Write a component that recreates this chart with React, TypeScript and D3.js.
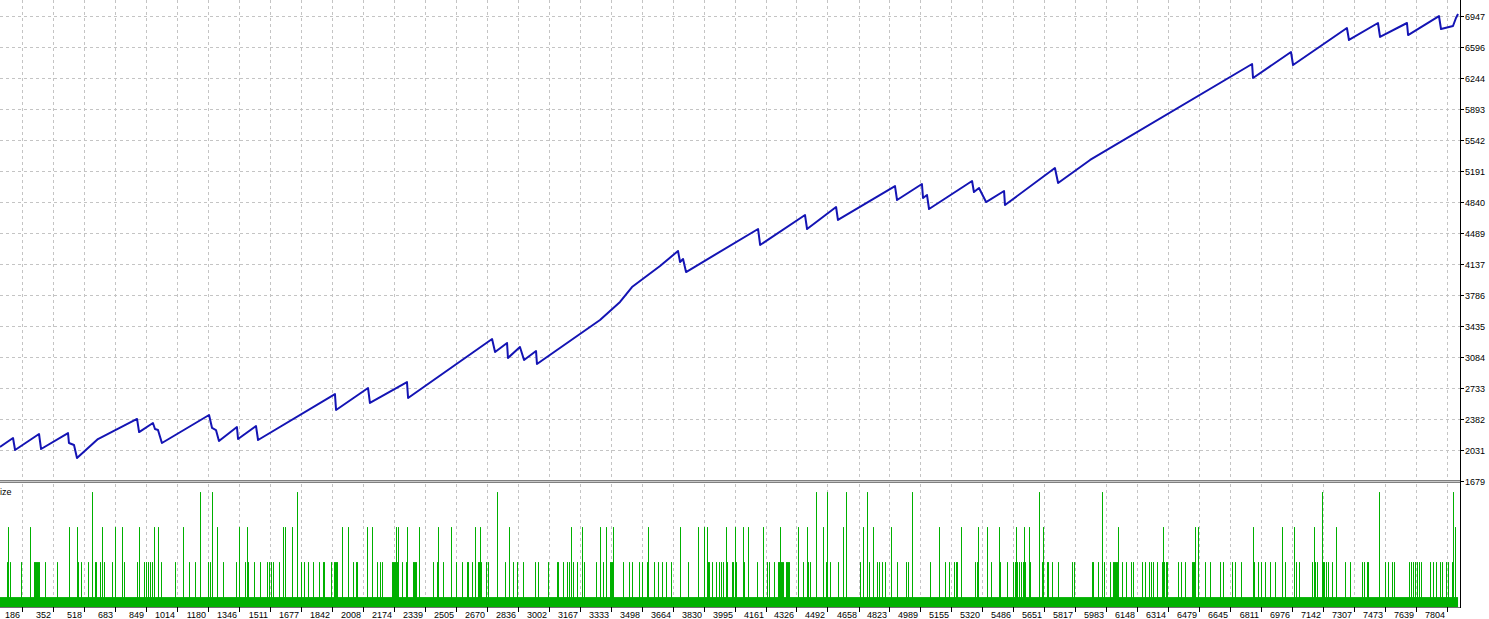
import React from "react";
import * as d3 from "d3";

// ---- Data ----
const yTickLabels = [1679, 2031, 2382, 2733, 3084, 3435, 3786, 4137, 4489, 4840, 5191, 5542, 5893, 6244, 6596, 6947];
const xTickLabels = [186, 352, 518, 683, 849, 1014, 1180, 1346, 1511, 1677, 1842, 2008, 2174, 2339, 2505, 2670, 2836, 3002, 3167, 3333, 3498, 3664, 3830, 3995, 4161, 4326, 4492, 4658, 4823, 4989, 5155, 5320, 5486, 5651, 5817, 5983, 6148, 6314, 6479, 6645, 6811, 6976, 7142, 7307, 7473, 7639, 7804];

// equity curve vertices (trade number, balance)
const equityTrades = [68, 138, 149, 277, 288, 432, 437, 464, 480, 592, 801, 812, 886, 897, 913, 934, 1186, 1202, 1223, 1239, 1335, 1341, 1437, 1448, 1859, 1865, 2036, 2046, 2244, 2250, 2699, 2715, 2779, 2784, 2848, 2870, 2934, 2939, 3276, 3383, 3447, 3597, 3693, 3704, 3720, 3736, 4121, 4132, 4372, 4383, 4538, 4548, 4853, 4864, 4997, 5003, 5024, 5035, 5265, 5275, 5302, 5340, 5436, 5441, 5708, 5725, 5896, 6762, 6767, 6970, 6981, 7269, 7280, 7435, 7446, 7590, 7596, 7761, 7772, 7836, 7852, 7863];
const equityBalance = [2064, 2166, 2030, 2211, 2041, 2222, 2109, 2086, 1939, 2154, 2381, 2233, 2335, 2267, 2256, 2109, 2426, 2279, 2256, 2132, 2290, 2154, 2301, 2143, 2663, 2482, 2731, 2562, 2799, 2618, 3286, 3139, 3241, 3071, 3195, 3048, 3150, 3003, 3501, 3705, 3874, 4112, 4282, 4157, 4191, 4044, 4531, 4350, 4689, 4531, 4780, 4633, 5017, 4859, 5040, 4882, 4916, 4757, 5074, 4950, 4995, 4836, 4961, 4802, 5221, 5051, 5312, 6398, 6240, 6534, 6387, 6806, 6670, 6862, 6704, 6862, 6726, 6941, 6794, 6828, 6919, 6964];

const firstTrade = 68;
const lastTrade = 7863;
const baseLot = 0.01;
// trades opened with larger lots
const lot002Trades = [106, 122, 181, 229, 250, 256, 261, 266, 272, 277, 309, 373, 485, 501, 539, 576, 582, 603, 624, 667, 731, 801, 838, 849, 860, 870, 881, 929, 1004, 1079, 1111, 1180, 1191, 1261, 1330, 1378, 1394, 1426, 1458, 1496, 1507, 1517, 1528, 1560, 1678, 1694, 1715, 1742, 1774, 1795, 1801, 1838, 1854, 1859, 1865, 1870, 1956, 1972, 1977, 2084, 2100, 2111, 2164, 2169, 2175, 2180, 2191, 2218, 2239, 2276, 2282, 2287, 2292, 2383, 2405, 2437, 2506, 2538, 2565, 2570, 2592, 2624, 2629, 2640, 2667, 2677, 2768, 2811, 2832, 2864, 2929, 2945, 2998, 3046, 3052, 3078, 3100, 3110, 3132, 3153, 3191, 3255, 3292, 3330, 3335, 3340, 3399, 3431, 3447, 3485, 3501, 3527, 3565, 3586, 3608, 3629, 3656, 3746, 3853, 3859, 3875, 3896, 3912, 3923, 3934, 3955, 3982, 3987, 4003, 4046, 4115, 4169, 4180, 4206, 4228, 4233, 4244, 4249, 4254, 4271, 4276, 4281, 4287, 4361, 4388, 4399, 4484, 4506, 4548, 4666, 4714, 4757, 4768, 4784, 4800, 4864, 4912, 4923, 5040, 5120, 5142, 5169, 5179, 5185, 5281, 5292, 5366, 5414, 5452, 5484, 5494, 5505, 5516, 5527, 5537, 5548, 5575, 5639, 5666, 5671, 5692, 5724, 5799, 5810, 5906, 5912, 5938, 5971, 6003, 6019, 6024, 6029, 6035, 6040, 6067, 6088, 6115, 6126, 6173, 6189, 6211, 6222, 6232, 6254, 6281, 6291, 6302, 6307, 6366, 6382, 6404, 6441, 6446, 6452, 6511, 6537, 6591, 6607, 6655, 6671, 6703, 6772, 6794, 6810, 6831, 6858, 6885, 6938, 6997, 7013, 7082, 7099, 7109, 7141, 7147, 7157, 7168, 7189, 7259, 7286, 7350, 7361, 7377, 7382, 7473, 7489, 7510, 7521, 7601, 7612, 7623, 7633, 7644, 7654, 7665, 7713, 7729, 7745, 7767, 7777, 7799, 7810, 7831];
const lot003Trades = [111, 229, 437, 480, 614, 683, 721, 812, 892, 913, 1047, 1229, 1346, 1389, 1581, 1592, 1629, 1897, 1929, 2030, 2057, 2185, 2196, 2244, 2308, 2410, 2479, 2608, 2634, 2789, 3121, 3180, 3276, 3308, 3346, 3533, 3704, 3800, 3832, 3848, 3950, 3998, 4040, 4067, 4147, 4238, 4335, 4383, 4468, 4575, 4682, 4735, 4832, 5088, 5206, 5297, 5345, 5409, 5500, 5543, 5569, 5644, 6045, 6286, 6457, 6473, 6767, 6922, 6986, 7093, 7211, 7847];
const lot004Trades = [560, 1138, 1202, 1656, 2725, 4431, 4490, 4591, 4703, 4944, 5623, 5960, 7136, 7441, 7836];

// ---- Layout ----
const W = 1489;
const H = 619;
const axisX = 1460;
const mainTop = 15.5;
const mainBottom = 481;
const volTop = 484;
const volBottom = 607;

const FONT = "'Liberation Sans', Arial, sans-serif";

export default function App() {
  const x = d3.scaleLinear().domain([186, 7804]).range([22, 1447]);
  const y = d3.scaleLinear().domain([1679, 6947]).range([mainBottom, mainTop]);
  const yVol = d3.scaleLinear().domain([0.00717, 0.0423]).range([volBottom, volTop]);

  const pts: [number, number][] = equityTrades.map((t, i) => [x(t), y(equityBalance[i])]);
  const linePath = d3.line()(pts) || "";

  const bars: { t: number; lot: number }[] = [];
  lot002Trades.forEach((t) => bars.push({ t, lot: 0.02 }));
  lot003Trades.forEach((t) => bars.push({ t, lot: 0.03 }));
  lot004Trades.forEach((t) => bars.push({ t, lot: 0.04 }));

  const green = "#00b000";
  const grid = "#c4c4c4";

  return (
    <div style={{ position: "absolute", left: 0, top: 0, width: W, height: H, background: "#fff" }}>
      <svg width={W} height={H} style={{ display: "block" }}>
        <rect x={0} y={0} width={W} height={H} fill="#fff" />
        {/* horizontal grid main */}
        {yTickLabels.map((v) => (
          <line key={"hg" + v} x1={0} x2={axisX} y1={Math.round(y(v)) + 0.5} y2={Math.round(y(v)) + 0.5}
            stroke={grid} strokeDasharray="3,3" />
        ))}
        {/* vertical grid main + volume */}
        {xTickLabels.map((v) => (
          <g key={"vg" + v}>
            <line x1={Math.round(x(v)) + 0.5} x2={Math.round(x(v)) + 0.5} y1={0} y2={mainBottom}
              stroke={grid} strokeDasharray="3,3" />
            <line x1={Math.round(x(v)) + 0.5} x2={Math.round(x(v)) + 0.5} y1={volTop} y2={volBottom}
              stroke={grid} strokeDasharray="3,3" />
          </g>
        ))}

        {/* equity line */}
        <path d={linePath} fill="none" stroke="#1414b4" strokeWidth={2} strokeLinejoin="round" />

        {/* separator */}
        <line x1={0} x2={axisX} y1={480.5} y2={480.5} stroke="#808080" />
        <line x1={0} x2={axisX} y1={481.5} y2={481.5} stroke="#c8c8c8" />
        <line x1={0} x2={axisX} y1={482.5} y2={482.5} stroke="#808080" />

        {/* volume panel */}
        <text x={-6} y={495} fontFamily={FONT} fontSize={9} fill="#000">Size</text>
        <rect x={x(firstTrade)} y={yVol(baseLot)} width={x(lastTrade) - x(firstTrade)}
          height={volBottom - yVol(baseLot)} fill={green} />
        {bars.map((b, i) => (
          <line key={"b" + i} x1={Math.round(x(b.t)) + 0.5} x2={Math.round(x(b.t)) + 0.5}
            y1={volBottom} y2={yVol(b.lot)} stroke={green} strokeWidth={1} />
        ))}
        <line x1={0} x2={axisX} y1={volBottom + 0.5} y2={volBottom + 0.5} stroke="#707070" />

        {/* right axis */}
        <line x1={axisX + 0.5} x2={axisX + 0.5} y1={0} y2={volBottom + 1} stroke="#000" />
        {yTickLabels.map((v) => (
          <g key={"yt" + v}>
            <line x1={axisX} x2={axisX + 4} y1={Math.round(y(v)) + 0.5} y2={Math.round(y(v)) + 0.5} stroke="#000" />
            <text x={axisX + 5} y={Math.round(y(v)) + 4} fontFamily={FONT} fontSize={9} fill="#000">{v}</text>
          </g>
        ))}

        {/* bottom axis */}
        {xTickLabels.map((v) => (
          <g key={"xt" + v}>
            <line x1={Math.round(x(v)) + 0.5} x2={Math.round(x(v)) + 0.5} y1={volBottom} y2={volBottom + 5} stroke="#000" />
            <text x={Math.round(x(v)) - 2} y={618} textAnchor="end" fontFamily={FONT} fontSize={9} fill="#000">{v}</text>
          </g>
        ))}
      </svg>
    </div>
  );
}
